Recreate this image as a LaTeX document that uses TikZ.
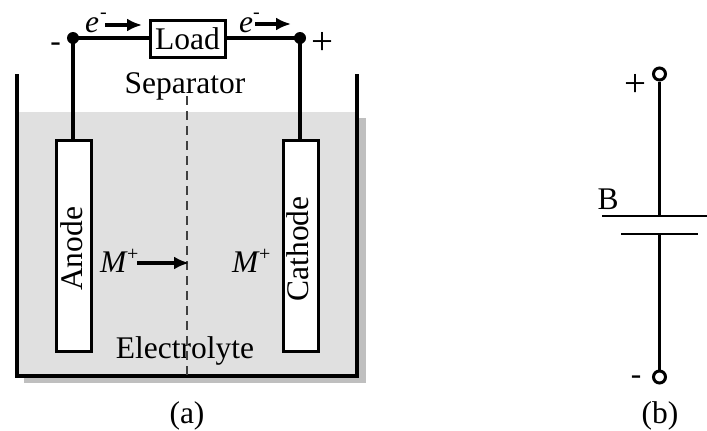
\documentclass[tikz,border=0pt]{standalone}
\usepackage{fontspec}
\setmainfont{Liberation Serif}
\usetikzlibrary{arrows.meta}
\tikzset{
  x=1pt,y=-1pt,
  wire/.style={line width=3.2pt,black},
  thin wire/.style={line width=2.8pt,black},
  txt/.style={inner sep=0pt,font=\fontsize{31.5}{32}\selectfont,anchor=base},
  bigtxt/.style={inner sep=0pt,font=\fontsize{39}{40}\selectfont,anchor=base},
  small/.style={inner sep=0pt,font=\fontsize{20}{20}\selectfont,anchor=base west},
  electrode/.style={draw=black,line width=3pt,fill=white,minimum width=35pt,minimum height=211pt,inner sep=0pt},
  dot/.style={circle,fill=black,minimum size=12pt,inner sep=0pt},
  term/.style={circle,draw=black,line width=3pt,fill=white,minimum size=12pt,inner sep=0pt},
  flow/.style={line width=3.2pt,-{Latex[length=15pt,width=13pt]}},
}
\begin{document}
\begin{tikzpicture}
\useasboundingbox (0,0) rectangle (707,431);
% electrolyte
\fill[black!25] (24,118) rectangle (366,383);
\fill[black!12] (17,112) rectangle (357,376);
\draw[wire] (17,74) -- (17,376) -- (357,376) -- (357,74);
% electrodes
\node[electrode] (anode) at (73.5,245.5) {};
\node[electrode] (cathode) at (300.5,245.5) {};
\node[txt,rotate=90,anchor=center] at (72,249) {Anode};
\node[txt,rotate=90,anchor=center] at (298,249) {Cathode};
% load
\node[draw=black,line width=3pt,fill=white,minimum width=75pt,minimum height=37pt,inner sep=0pt] (load) at (187.5,39) {};
\node[txt] at (187.5,49) {Load};
\node[dot] (dl) at (73,38) {};
\node[dot] (dr) at (300,38) {};
\draw[wire] (dl.center) -- (load.west |- dl.center);
\draw[wire] (load.east |- dr.center) -- (dr.center);
\draw[wire] (dl.center) -- (dl.center |- anode.north);
\draw[wire] (dr.center) -- (dr.center |- cathode.north);
% labels
\node[txt] at (55.5,51) {-};
\node[bigtxt] at (322,54) {+};
\node[txt] (sep) at (185,93) {Separator};
\node[txt] (ely) at (185,358) {Electrolyte};
\node[txt] at (187,423) {(a)};
% separator
\coordinate (st) at (187,96);
\coordinate (sb) at (187,376);
\draw[line width=2pt,black!75,dash pattern=on 9pt off 6pt] (st) -- (sb);
% electrons
\node[txt,anchor=base west] (e1) at (85,32) {\textit{e}};
\node[small] at (100,18) {-};
\coordinate (e1a) at (105,25);
\coordinate (e1b) at (142,25);
\draw[flow] (e1a) -- (e1b);
\node[txt,anchor=base west] (e2) at (239,32) {\textit{e}};
\node[small] at (253,18) {-};
\coordinate (e2a) at (255,24);
\coordinate (e2b) at (291,24);
\draw[flow] (e2a) -- (e2b);
% ions
\node[txt,anchor=base west] (m1) at (100,272) {\textit{M}};
\node[small] at (127,260) {+};
\coordinate (m1a) at (137,263);
\coordinate (m1b) at (189,263);
\draw[flow] (m1a) -- (m1b);
\node[txt,anchor=base west] (m2) at (232,272) {\textit{M}};
\node[small] at (259,260) {+};
% panel b
\node[term] (tp) at (659.5,74) {};
\node[term] (tm) at (659.5,377) {};
\coordinate (p1l) at (602,216);
\coordinate (p1r) at (707,216);
\coordinate (p2l) at (621,234);
\coordinate (p2r) at (698,234);
\coordinate (p1m) at (659.5,216);
\coordinate (p2m) at (659.5,234);
\draw[thin wire] (p1l) -- (p1r);
\draw[thin wire] (p2l) -- (p2r);
\draw[wire] (tp) -- (p1m);
\draw[wire] (p2m) -- (tm);
\node[bigtxt] at (635,96) {+};
\node[txt] at (636,384) {-};
\node[txt] at (608,209) {B};
\node[txt] at (660,423) {(b)};
\end{tikzpicture}
\end{document}
